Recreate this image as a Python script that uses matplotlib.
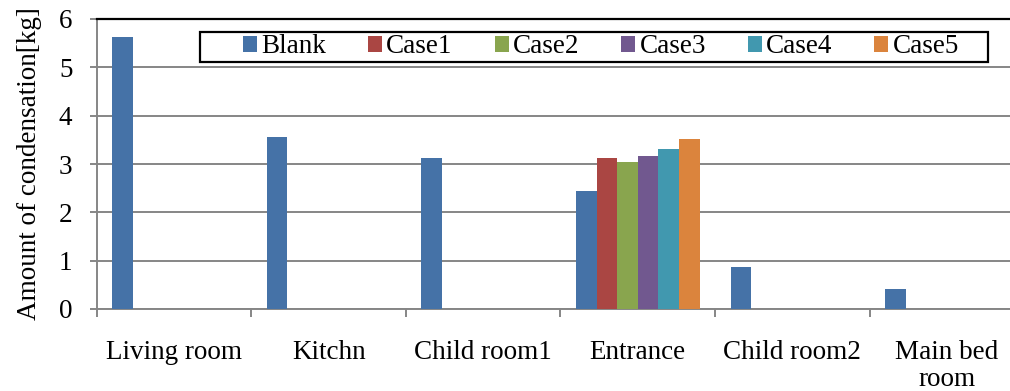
import matplotlib
matplotlib.use("Agg")
import matplotlib.pyplot as plt
from matplotlib.patches import Rectangle
from matplotlib.ticker import FixedLocator, NullFormatter
import numpy as np

plt.rcParams['font.family'] = ['Liberation Serif', 'DejaVu Serif']

rooms = ["Living room", "Kitchn", "Child room1", "Entrance", "Child room2", "Main bed\nroom"]
series_names = ["Blank", "Case1", "Case2", "Case3", "Case4", "Case5"]
blank = [5.63, 3.55, 3.12, 2.45, 0.86, 0.42]
case1 = [0, 0, 0, 3.13, 0, 0]
case2 = [0, 0, 0, 3.04, 0, 0]
case3 = [0, 0, 0, 3.17, 0, 0]
case4 = [0, 0, 0, 3.31, 0, 0]
case5 = [0, 0, 0, 3.52, 0, 0]
series_values = [blank, case1, case2, case3, case4, case5]
colors = ["#4572A7", "#AA4643", "#89A54E", "#71588F", "#4198AF", "#DB843D"]
y_ticks = [0, 1, 2, 3, 4, 5, 6]

FS = 19.5
grid_col = "#868686"

fig = plt.figure(figsize=(10.10, 3.91), dpi=100)
ax = fig.add_axes([96.7 / 1010, 82 / 391, 6 * 154.6 / 1010, 290 / 391])

n_series = len(series_names)
bar_w = 1 / 7.5
x = np.arange(len(rooms))
for i, (name, vals, c) in enumerate(zip(series_names, series_values, colors)):
    ax.bar(x + (i - (n_series - 1) / 2) * bar_w, vals, width=bar_w, color=c,
           label=name, zorder=3, edgecolor=c, linewidth=0)

ax.set_xlim(-0.5, len(rooms) - 0.5)
ax.set_ylim(0, 6)
ax.set_yticks(y_ticks)
ax.set_yticklabels([str(t) for t in y_ticks], fontsize=FS)
ax.yaxis.grid(True, color=grid_col, linewidth=1.4, zorder=0)
ax.set_axisbelow(True)

ax.set_xticks(x)
ax.set_xticklabels(rooms, fontsize=FS, linespacing=1.12)
ax.tick_params(axis='x', which='major', length=0, pad=22)
ax.xaxis.set_minor_locator(FixedLocator(np.arange(-0.5, len(rooms), 1.0)))
ax.xaxis.set_minor_formatter(NullFormatter())
ax.tick_params(axis='x', which='minor', length=6, width=1.4, color=grid_col, direction='out')
ax.tick_params(axis='y', length=5, width=1.4, color=grid_col, direction='out', pad=12.5)

for side in ('left', 'bottom'):
    ax.spines[side].set_color(grid_col)
    ax.spines[side].set_linewidth(1.4)
ax.spines['top'].set_color('black')
ax.spines['top'].set_linewidth(1.6)
ax.spines['right'].set_visible(False)

ax.set_ylabel("Amount of condensation[kg]", fontsize=FS)
ax.yaxis.set_label_coords(-0.0586, 0.5)

# boxed legend across the top of the plot
box_x0, box_x1 = (200 - 96.7) / 927.6, (988 - 96.7) / 927.6
box_y0, box_y1 = (309 - 62) / 290, (309 - 31.7) / 290
ax.add_patch(Rectangle((box_x0, box_y0), box_x1 - box_x0, box_y1 - box_y0,
                       transform=ax.transAxes, facecolor='white', edgecolor='black',
                       linewidth=1.6, zorder=4))
leg = ax.legend(loc='center',
                bbox_to_anchor=((box_x0 + box_x1) / 2 + 7 / 927.6, (box_y0 + box_y1) / 2),
                ncol=6, frameon=False, fontsize=FS, handlelength=0.52, handleheight=0.52,
                handletextpad=0.15, columnspacing=1.55, borderpad=0, borderaxespad=0)
leg.set_zorder(5)

fig.savefig("out.png", dpi=100)
